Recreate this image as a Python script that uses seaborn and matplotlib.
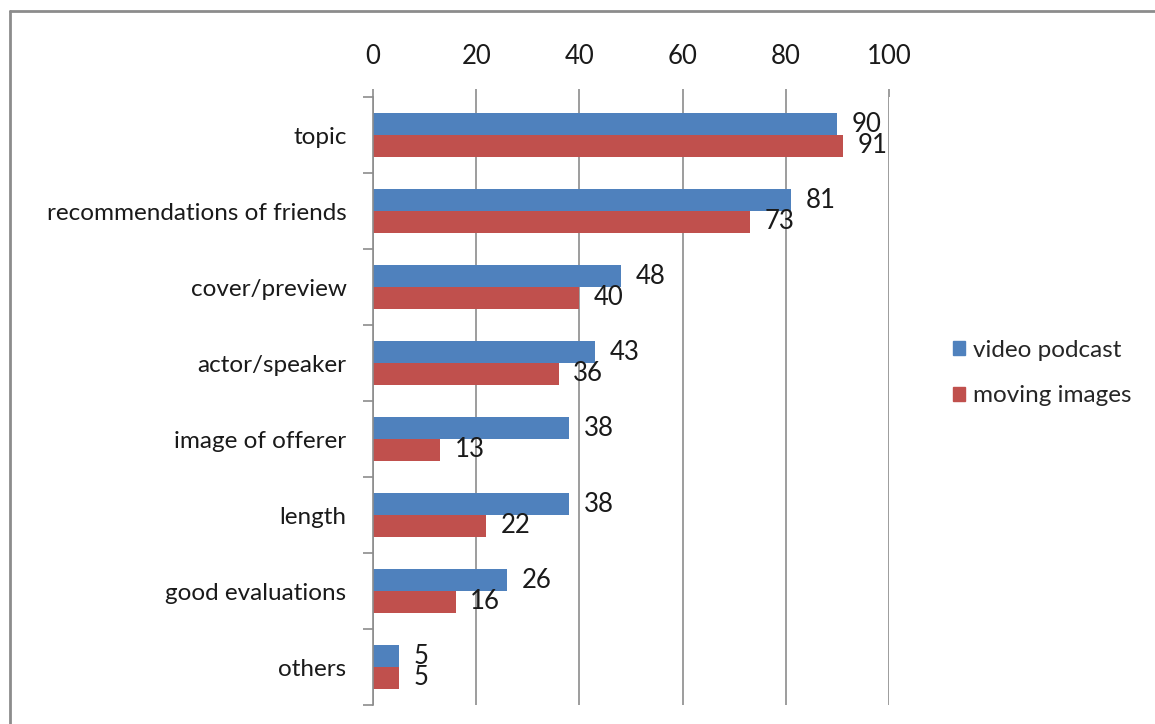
import matplotlib
matplotlib.use("Agg")
import matplotlib.pyplot as plt
import seaborn as sns
import pandas as pd
from matplotlib.lines import Line2D
from matplotlib.ticker import FixedLocator

categories = ["topic", "recommendations of friends", "cover/preview", "actor/speaker",
              "image of offerer", "length", "good evaluations", "others"]
video_podcast = [90, 81, 48, 43, 38, 38, 26, 5]
moving_images = [91, 73, 40, 36, 13, 22, 16, 5]
series_names = ["video podcast", "moving images"]
x_ticks = [0, 20, 40, 60, 80, 100]

colors = ["#4F81BD", "#C0504D"]
grey = "#8C8C8C"

df = pd.DataFrame({
    "category": categories * 2,
    "value": video_podcast + moving_images,
    "series": [series_names[0]] * len(categories) + [series_names[1]] * len(categories),
})

sns.set_theme(style="white")
plt.rcParams["font.family"] = ["Lato", "DejaVu Sans"]

fig = plt.figure(figsize=(11.55, 7.24), dpi=100)
ax = fig.add_axes([0.3229, 0.0262, 0.7697 - 0.3229, 0.866 - 0.0262])

sns.barplot(data=df, y="category", x="value", hue="series", order=categories,
            hue_order=series_names, palette=colors, width=0.57, orient="h",
            saturation=1, ax=ax, legend=True, edgecolor="none")

ax.set_xlim(0, 100)
ax.set_ylim(len(categories) - 0.5, -0.5)
ax.xaxis.tick_top()
ax.set_xticks(x_ticks)
ax.set_xticklabels([str(t) for t in x_ticks], fontsize=18.5, color="#1a1a1a")
ax.tick_params(axis="x", which="major", top=True, bottom=False, length=6, width=1.2,
               color=grey, pad=14, direction="out")
ax.set_xlabel("")
ax.set_ylabel("")
ax.grid(axis="x", color=grey, linewidth=1.2)
ax.set_axisbelow(True)

ax.tick_params(axis="y", which="major", length=0, pad=19, labelsize=17.5, labelcolor="#1a1a1a")
ax.yaxis.set_minor_locator(FixedLocator([i - 0.5 for i in range(len(categories) + 1)]))
ax.tick_params(axis="y", which="minor", left=True, length=7, width=1.2, color=grey, direction="out")

for s in ["top", "right", "bottom"]:
    ax.spines[s].set_visible(False)
ax.spines["left"].set_color(grey)
ax.spines["left"].set_linewidth(1.2)

for cont in ax.containers:
    ax.bar_label(cont, fmt="%g", padding=10.5, fontsize=18.5, color="#1a1a1a")

handles = [plt.Rectangle((0, 0), 1, 1, color=c) for c in colors]
ax.legend(handles, series_names, loc="center left", bbox_to_anchor=(1.082, 0.546),
          frameon=False, fontsize=17.5, handlelength=0.5, handleheight=0.5,
          labelspacing=1.0, handletextpad=0.3)

# figure border (top and left)
fig.add_artist(Line2D([10 / 1155, 1.0], [1 - 11 / 724, 1 - 11 / 724], transform=fig.transFigure,
                      color="#8C8C8C", linewidth=2))
fig.add_artist(Line2D([10 / 1155, 10 / 1155], [0, 1 - 11 / 724], transform=fig.transFigure,
                      color="#8C8C8C", linewidth=2))

fig.savefig("out.png", dpi=100, facecolor="white")
